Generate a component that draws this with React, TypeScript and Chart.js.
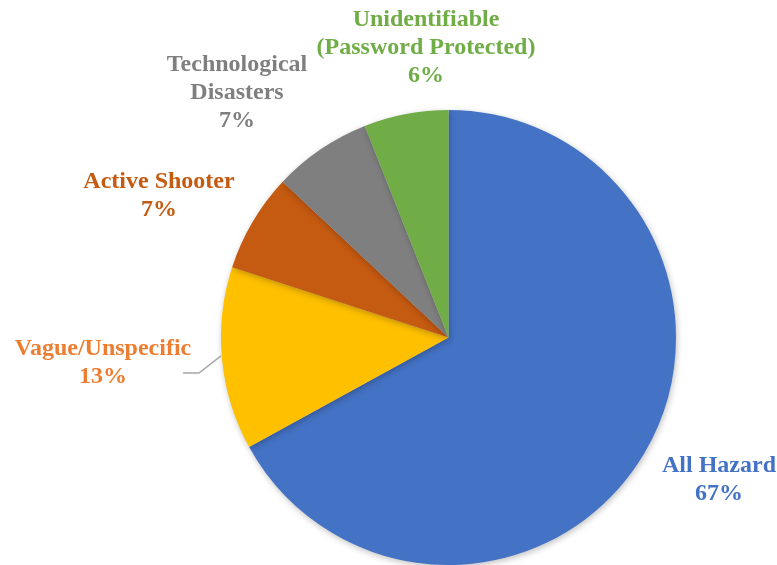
import React, { useEffect, useRef } from "react";
import { Chart, registerables } from "chart.js";

Chart.register(...registerables);

const categories = ["All Hazard", "Vague/Unspecific", "Active Shooter", "Technological Disasters", "Unidentifiable (Password Protected)"];
const labelLines = [
  ["All Hazard"],
  ["Vague/Unspecific"],
  ["Active Shooter"],
  ["Technological", "Disasters"],
  ["Unidentifiable", "(Password Protected)"],
];
const values = [67, 13, 7, 7, 6];
const sliceColors = ["#4472C4", "#FFC000", "#C55A11", "#7F7F7F", "#70AD47"];
const labelColors = ["#4472C4", "#ED7D31", "#C55A11", "#7F7F7F", "#70AD47"];
// label block centers (layout only)
const labelPos = [
  [719, 466],
  [103, 349],
  [159, 182],
  [237, 65],
  [426, 20],
];

const labelPlugin = {
  id: "customLabels",
  afterDatasetsDraw(chart: any) {
    const ctx = chart.ctx;
    const meta = chart.getDatasetMeta(0);
    const total = values.reduce((a, b) => a + b, 0);
    ctx.save();
    ctx.font = "bold 24px 'Liberation Serif', 'Times New Roman', serif";
    ctx.textAlign = "center";
    ctx.textBaseline = "middle";
    const lh = 28;
    values.forEach((v, i) => {
      const lines = [...labelLines[i], Math.round((v / total) * 100) + "%"];
      const [cx, cy] = labelPos[i];
      ctx.fillStyle = labelColors[i];
      lines.forEach((t, k) => ctx.fillText(t, cx, cy + k * lh));
    });
    // leader line for Vague/Unspecific
    const arc = meta.data[1];
    const mid = (arc.startAngle + arc.endAngle) / 2;
    const ex = arc.x + Math.cos(mid) * arc.outerRadius;
    const ey = arc.y + Math.sin(mid) * arc.outerRadius;
    ctx.strokeStyle = "#A6A6A6";
    ctx.lineWidth = 1.5;
    ctx.beginPath();
    ctx.moveTo(183, 373);
    ctx.lineTo(199, 373);
    ctx.lineTo(ex - 1, ey - 3);
    ctx.stroke();
    ctx.restore();
  },
};

const shadowPlugin = {
  id: "pieShadow",
  beforeDatasetsDraw(chart: any) {
    const ctx = chart.ctx;
    ctx.save();
    ctx.shadowColor = "rgba(0,0,0,0.25)";
    ctx.shadowBlur = 6;
    ctx.shadowOffsetX = 1;
    ctx.shadowOffsetY = 2;
  },
  afterDatasetsDraw(chart: any) {
    chart.ctx.restore();
  },
};

export default function App() {
  const ref = useRef<HTMLCanvasElement>(null);
  useEffect(() => {
    document.body.style.margin = "0";
    const chart = new Chart(ref.current!, {
      type: "pie",
      data: {
        labels: categories,
        datasets: [
          {
            data: values,
            backgroundColor: sliceColors,
            borderWidth: 0,
          },
        ],
      },
      options: {
        responsive: false,
        animation: false,
        layout: { padding: { top: 110, bottom: 0, left: 221, right: 101 } },
        plugins: {
          legend: { display: false },
          tooltip: { enabled: false },
        },
      },
      plugins: [shadowPlugin, labelPlugin],
    });
    return () => chart.destroy();
  }, []);
  return (
    <div style={{ width: 777, height: 565, background: "#fff" }}>
      <canvas ref={ref} width={777} height={565} />
    </div>
  );
}
